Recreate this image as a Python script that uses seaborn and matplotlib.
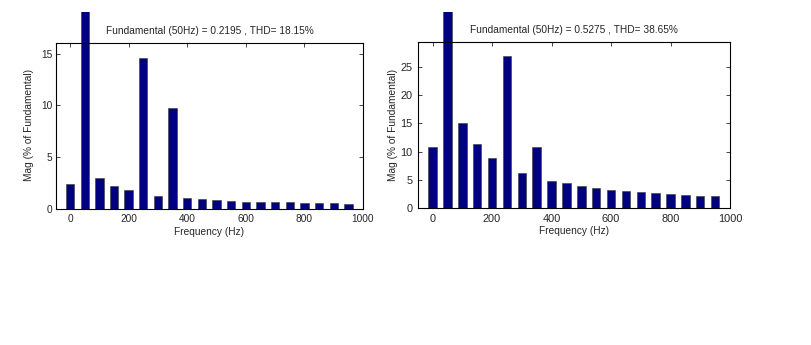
import matplotlib
matplotlib.use("Agg")
import matplotlib.pyplot as plt
from matplotlib.patches import Rectangle
import seaborn as sns
import pandas as pd

sns.set_style("ticks")
plt.rcParams["font.family"] = ["Liberation Sans", "DejaVu Sans"]

# Harmonic spectrum, 0..950 Hz in 50 Hz steps (fundamental = 100 %)
freq_hz = [0, 50, 100, 150, 200, 250, 300, 350, 400, 450,
           500, 550, 600, 650, 700, 750, 800, 850, 900, 950]

mag_left = [2.38, 100, 2.93, 2.19, 1.77, 14.61, 1.22, 9.69, 1.00, 0.93,
            0.84, 0.74, 0.64, 0.64, 0.61, 0.61, 0.55, 0.55, 0.55, 0.45]
mag_right = [10.82, 100, 15.07, 11.35, 8.87, 26.95, 6.20, 10.82, 4.79, 4.43,
             3.90, 3.49, 3.19, 3.01, 2.78, 2.66, 2.48, 2.30, 2.13, 2.07]

titles = ["Fundamental (50Hz) = 0.2195 , THD= 18.15%",
          "Fundamental (50Hz) = 0.5275 , THD= 38.65%"]
ylims = [16.05, 29.5]
yticks = [[0, 5, 10, 15], [0, 5, 10, 15, 20, 25]]
xticks = [0, 200, 400, 600, 800, 1000]

W, H = 812, 345
fig = plt.figure(figsize=(W / 100, H / 100), dpi=100)

positions = [
    [56 / W, 1 - 208.7 / H, (363 - 56) / W, (208.7 - 42.7) / H],
    [418.3 / W, 1 - 208 / H, (730 - 418.3) / W, (208 - 41.7) / H],
]
ylabel_x = [29, 393]
tick_fs = [7.3, 7.9]
ytick_pad = [2.5, 4]

bar_color = "#000080"
fs = 7.3

for i, mags in enumerate([mag_left, mag_right]):
    ax = fig.add_axes(positions[i])
    df = pd.DataFrame({"Frequency": freq_hz, "Mag": mags})
    sns.barplot(data=df, x="Frequency", y="Mag", native_scale=True,
                width=0.57, color=bar_color, saturation=1,
                edgecolor="#3a3a3a", linewidth=0.4, ax=ax)
    ax.set_xlim(-48, 1000)
    ax.set_ylim(0, ylims[i])
    ax.set_xticks(xticks)
    ax.set_yticks(yticks[i])
    ax.tick_params(direction="in", length=3, width=0.6,
                   labelsize=tick_fs[i], top=True, right=True)
    ax.tick_params(axis="x", pad=4)
    ax.tick_params(axis="y", pad=ytick_pad[i])
    for s in ax.spines.values():
        s.set_visible(True)
        s.set_linewidth(0.8)
        s.set_color("black")
    ax.set_xlabel("Frequency (Hz)", fontsize=fs, labelpad=2)
    ax.set_ylabel("")
    fig.text(ylabel_x[i] / W, 1 - 125 / H, "Mag (% of Fundamental)",
             rotation=90, ha="center", va="center", fontsize=fs)
    ax.set_title(titles[i], fontsize=fs, pad=6)

    # the fundamental bar runs past the top of the axes
    clip_rect = Rectangle((0, 0), 1, 1 - 12 / H, transform=fig.transFigure,
                          facecolor="none", edgecolor="none")
    for bar in ax.patches:
        x_center = bar.get_x() + bar.get_width() / 2
        if abs(x_center - 50) < 1:
            bar.set_clip_path(clip_rect)

fig.savefig("out.png", dpi=100)
